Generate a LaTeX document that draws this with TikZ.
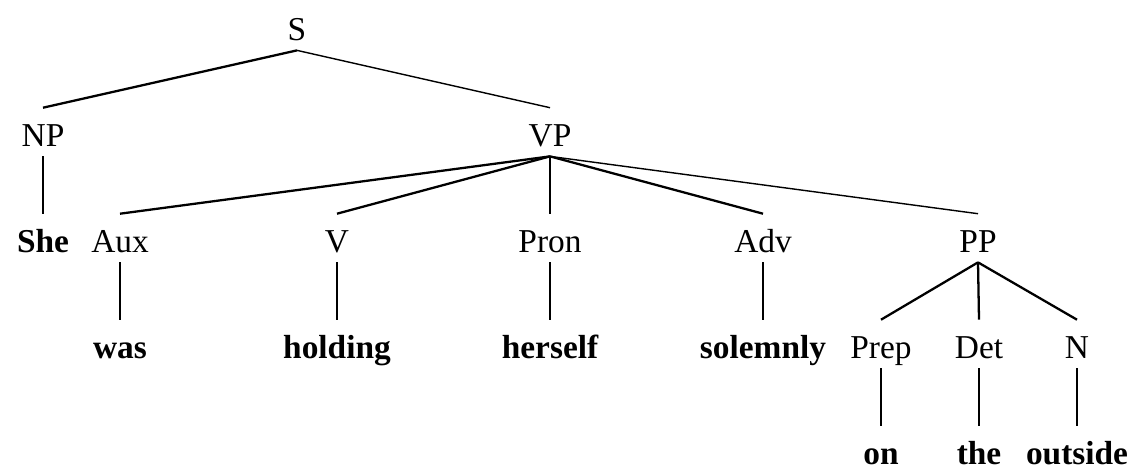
\documentclass[tikz,border=0pt]{standalone}
\usepackage{fontspec}
\setmainfont{Liberation Serif}
\usetikzlibrary{positioning}

\begin{document}
\begin{tikzpicture}[
x=0.02cm,y=-0.02cm,
cat/.style={inner sep=0pt,anchor=base,text height=21.6pt,text depth=5.7pt,font=\fontsize{19}{22}\selectfont},
word/.style={cat,font=\fontsize{19}{22}\selectfont\bfseries},
branch/.style={line width=0.8pt},
heavy/.style={line width=1.3pt}
]
\useasboundingbox (0,0) rectangle (1148,471);
% categories
\node[cat] (s) at (297,40) {S};
\node[cat] (np) at (43,146) {NP};
\node[cat] (vp) at (550,146) {VP};
\node[word] (she) at (43,252) {She};
\node[cat] (aux) at (120,252) {Aux};
\node[cat] (v) at (337,252) {V};
\node[cat] (pron) at (550,252) {Pron};
\node[cat] (adv) at (763,252) {Adv};
\node[cat] (pp) at (978,252) {PP};
\node[word] (was) at (120,358) {was};
\node[word] (holding) at (337,358) {holding};
\node[word] (herself) at (550,358) {herself};
\node[word] (solemnly) at (763,358) {solemnly};
\node[cat] (prep) at (881,358) {Prep};
\node[cat] (det) at (979,358) {Det};
\node[cat] (noun) at (1077,358) {N};
\node[word] (on) at (881,464) {on};
\node[word] (the) at (979,464) {the};
\node[word] (outside) at (1077,464) {outside};
% branches
\draw[heavy] (s.south)--(np.north);
\draw[branch] (s.south)--(vp.north);
\draw[branch] (np.south)--(she.north);
\foreach \n in {aux,v,adv} \draw[heavy] (vp.south)--(\n.north);
\foreach \n in {pron,pp} \draw[branch] (vp.south)--(\n.north);
\foreach \n in {prep,det,noun} \draw[heavy] (pp.south)--(\n.north);
\foreach \a/\b in {aux/was,v/holding,pron/herself,adv/solemnly,prep/on,det/the,noun/outside} \draw[branch] (\a.south)--(\b.north);
\end{tikzpicture}
\end{document}
